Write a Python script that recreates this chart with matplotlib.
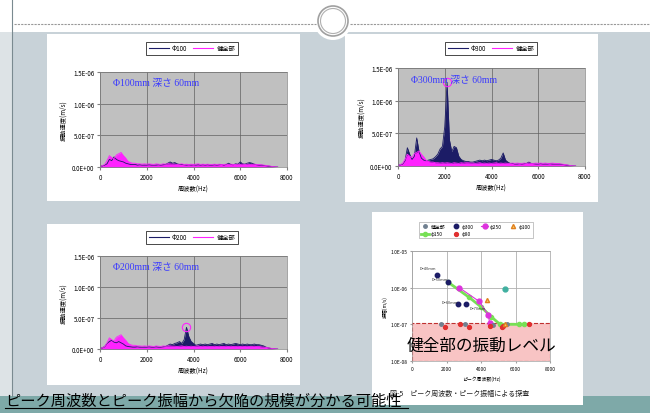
import numpy as np
import matplotlib
matplotlib.use('Agg')
import matplotlib.pyplot as plt
from matplotlib.patches import Rectangle, Circle
from matplotlib.lines import Line2D
from matplotlib.ticker import FuncFormatter

plt.rcParams['font.family'] = ['Noto Sans CJK JP', 'DejaVu Sans']

W, H = 650, 414

# spectra, 100 Hz steps, values in 1e-7 m/s
freq = np.arange(0, 7700, 100)
healthy = [0.1, 0.2, 0.4, 1.0, 1.8, 1.5, 1.3, 1.9, 2.1, 2.3,
           1.8, 1.4, 0.9, 0.7, 0.6, 0.6, 0.5, 0.5, 0.45, 0.5,
           0.45, 0.5, 0.45, 0.4, 0.5, 0.45, 0.4, 0.5, 0.45, 0.5,
           0.5, 0.45, 0.45, 0.4, 0.45, 0.5, 0.4, 0.45, 0.4, 0.45,
           0.4, 0.45, 0.5, 0.4, 0.45, 0.4, 0.45, 0.4, 0.4, 0.45,
           0.4, 0.45, 0.4, 0.4, 0.45, 0.4, 0.45, 0.4, 0.4, 0.45,
           0.4, 0.45, 0.4, 0.45, 0.4, 0.4, 0.45, 0.4, 0.4, 0.35,
           0.3, 0.25, 0.2, 0.12, 0.06, 0.02, 0.0]
phi100 = [0.1, 0.2, 0.3, 0.5, 1.2, 1.0, 1.6, 1.2, 1.0, 0.9,
          0.8, 0.6, 0.5, 0.4, 0.4, 0.4, 0.3, 0.35, 0.3, 0.3,
          0.3, 0.35, 0.3, 0.3, 0.3, 0.35, 0.3, 0.35, 0.4, 0.6,
          0.8, 0.6, 0.7, 0.5, 0.4, 0.4, 0.35, 0.3, 0.35, 0.3,
          0.35, 0.3, 0.35, 0.3, 0.35, 0.3, 0.35, 0.3, 0.3, 0.35,
          0.3, 0.35, 0.4, 0.3, 0.4, 0.6, 0.4, 0.35, 0.5, 0.45,
          0.8, 0.5, 0.45, 0.6, 0.7, 0.6, 0.45, 0.35, 0.3, 0.3,
          0.25, 0.2, 0.15, 0.1, 0.05, 0.02, 0.0]
phi300 = [0.1, 0.2, 0.3, 0.8, 2.8, 1.8, 1.0, 1.5, 4.3, 2.2,
          1.2, 0.9, 0.8, 0.9, 1.0, 1.1, 1.4, 1.8, 2.6, 3.0,
          6.0, 12.8, 4.0, 2.2, 3.0, 2.8, 1.5, 1.0, 0.8, 0.7,
          0.7, 0.6, 0.6, 0.7, 0.8, 0.9, 0.8, 0.9, 0.8, 0.9,
          1.0, 0.9, 0.8, 0.9, 1.2, 2.0, 0.9, 0.6, 0.4, 0.4,
          0.3, 0.3, 0.35, 0.3, 0.35, 0.4, 0.6, 0.4, 0.35, 0.3,
          0.3, 0.35, 0.3, 0.3, 0.3, 0.35, 0.3, 0.3, 0.3, 0.3,
          0.25, 0.2, 0.15, 0.1, 0.05, 0.02, 0.0]
phi200 = [0.1, 0.2, 0.4, 0.9, 1.2, 1.4, 1.1, 1.0, 1.2, 1.0,
          0.8, 0.5, 0.4, 0.35, 0.3, 0.3, 0.35, 0.3, 0.3, 0.3,
          0.3, 0.35, 0.3, 0.3, 0.35, 0.3, 0.3, 0.35, 0.4, 0.6,
          0.8, 0.7, 0.9, 1.0, 1.2, 0.9, 1.5, 3.5, 2.0, 1.2,
          0.9, 0.6, 0.7, 0.8, 0.7, 0.8, 0.7, 0.8, 0.9, 0.7,
          0.8, 0.7, 0.8, 0.9, 0.7, 0.8, 0.7, 0.8, 0.9, 0.8,
          0.7, 0.8, 0.7, 0.8, 0.7, 0.7, 0.8, 0.7, 0.7, 0.6,
          0.5, 0.3, 0.2, 0.1, 0.05, 0.02, 0.0]

# peak frequency / peak amplitude
pk_healthy_f = [1700, 3100, 4700, 5500]
pk_healthy_a = [1.0e-7, 1.0e-7, 9.5e-8, 1.0e-7]
pk_300_f = [1430, 2100, 2690, 3130]
pk_300_a = [2.2e-6, 1.45e-6, 3.6e-7, 3.6e-7]
pk_250_f = [2740, 3900, 4420, 4500]
pk_250_a = [1.0e-6, 4.2e-7, 1.8e-7, 1.1e-7]
pk_150_f = [2100, 3300, 4000, 4600, 5100, 6200, 6500]
pk_150_a = [1.4e-6, 5.5e-7, 3.0e-7, 1.6e-7, 1.0e-7, 1.0e-7, 1.0e-7]
pk_100_f = [4350, 5400]
pk_100_a = [4.7e-7, 1.0e-7]
pk_80_f = [1900, 2800, 3300, 4500, 5200, 5300, 6800]
pk_80_a = [8.5e-8, 1.0e-7, 8.5e-8, 9.0e-8, 8.5e-8, 9.0e-8, 1.0e-7]
pk_200_f = [5400]
pk_200_a = [9.0e-7]
depth_labels = ['D=40mm', 'D=50mm', 'D=60mm', 'D=70mm']
depth_f = [450, 1150, 1700, 3350]
depth_a = [3.2e-6, 1.6e-6, 3.8e-7, 2.6e-7]

NAVY = '#1c1c66'
MAG = '#ff22ff'

fig = plt.figure(figsize=(6.5, 4.14), dpi=100)
fig.patch.set_facecolor('#c8d2d8')

bg = fig.add_axes([0, 0, 1, 1])
bg.set_xlim(0, W)
bg.set_ylim(H, 0)
bg.axis('off')

# slide decoration
bg.add_patch(Rectangle((0, 0), W, 33, color='white', lw=0))
bg.add_patch(Rectangle((0, 33), 12, 364, color='#dde3e6', lw=0))
bg.plot([12, 12], [0, 397], color='#7a8a90', lw=0.8)
bg.plot([14, 316], [25, 25], color='#999999', lw=0.8, ls=(0, (2, 1)))
bg.plot([350, 650], [25, 25], color='#999999', lw=0.8, ls=(0, (2, 1)))
bg.add_patch(Circle((333, 22), 19, color='white', lw=0))
bg.add_patch(Circle((333, 22), 15, fill=False, ec='#a0a0a0', lw=1.2))
bg.add_patch(Circle((333, 22), 12.5, fill=False, ec='#b0b0b0', lw=0.8))
bg.add_patch(Rectangle((0, 397), W, 17, color='#7ea9a8', lw=0))

# white panels
for x0, y0, x1, y1 in [(47, 35, 300, 202), (345, 35, 598, 203),
                       (47, 225, 300, 386), (372, 213, 583, 406)]:
    bg.add_patch(Rectangle((x0, y0), x1 - x0, y1 - y0, color='white', lw=0))


def px_axes(x0, y0, x1, y1):
    return fig.add_axes([x0 / W, 1 - y1 / H, (x1 - x0) / W, (y1 - y0) / H])


sci = FuncFormatter(lambda v, p: f'{v:.1E}')


def spectrum(area, defect, name, note, leg_xy, ring=None):
    ax = px_axes(*area)
    ax.set_facecolor('#c0c0c0')
    d = np.array(defect) * 1e-7
    h = np.array(healthy) * 1e-7
    ax.fill_between(freq, d, color=NAVY, lw=0)
    ax.plot(freq, d, color=NAVY, lw=0.6)
    ax.fill_between(freq, h, color=MAG, lw=0)
    ax.plot(freq, h, color=MAG, lw=0.6)
    if ring is not None:
        ax.plot([ring[0]], [ring[1]], 'o', ms=6, mfc='none', mec=MAG, mew=0.8)
    ax.set_xlim(0, 8000)
    ax.set_ylim(0, 1.5e-6)
    ax.set_xticks([0, 2000, 4000, 6000, 8000])
    ax.set_yticks([0, 5e-7, 1e-6, 1.5e-6])
    ax.yaxis.set_major_formatter(sci)
    ax.grid(True, color='#606060', lw=0.5)
    ax.set_axisbelow(True)
    for s in ax.spines.values():
        s.set_color('#808080')
        s.set_linewidth(0.5)
    ax.tick_params(labelsize=4.5, length=2, pad=2, color='#808080')
    ax.set_xlabel('周波数(Hz)', fontsize=4.5, labelpad=3)
    ax.set_ylabel('振動速度(m/s)', fontsize=4.5, labelpad=3)
    ax.text(0.07, 0.86, note, transform=ax.transAxes, color='#3a3aff',
            fontsize=7, family=['Liberation Serif', 'Noto Sans CJK JP'])
    hs = [Line2D([], [], color=NAVY, lw=0.8), Line2D([], [], color=MAG, lw=0.8)]
    leg = ax.legend(hs, [name, '健全部'], loc='center', ncol=2,
                    bbox_to_anchor=(leg_xy[0] / W, 1 - leg_xy[1] / H),
                    bbox_transform=fig.transFigure, fontsize=4.5, fancybox=False,
                    edgecolor='black', framealpha=1, handlelength=3.2,
                    columnspacing=1.0, handletextpad=0.5, borderpad=0.4)
    leg.get_frame().set_linewidth(0.5)
    return ax


spectrum((100, 73, 287, 168), phi100, 'Φ100', 'Φ100mm 深さ 60mm', (192, 49))
spectrum((398, 69, 585, 167), phi300, 'Φ300', 'Φ300mm 深さ 60mm', (491, 49),
         ring=(2100, 12.8e-7))
spectrum((100, 257, 287, 350), phi200, 'Φ200', 'Φ200mm 深さ 60mm', (192, 238),
         ring=(3700, 3.5e-7))

# peak scatter chart
sx = px_axes(412, 252, 550, 362)
sx.set_yscale('log')
sx.set_xlim(0, 8000)
sx.set_ylim(1e-8, 1e-5)
sx.add_patch(Rectangle((0, 1e-8), 8000, 1.1e-7 - 1e-8, facecolor='#f8c4c4',
                       edgecolor='#c03030', ls='--', lw=0.8, zorder=1))
sx.plot(pk_150_f, pk_150_a, '-o', color='#77e055', lw=2, ms=3, zorder=3, label='φ150')
sx.plot(pk_250_f, pk_250_a, '-o', color='#dd33dd', lw=0.8, ms=3.5, zorder=4, label='φ250')
sx.plot(pk_300_f, pk_300_a, 'o', color=NAVY, ms=3.2, zorder=5, label='φ300')
sx.plot(pk_healthy_f, pk_healthy_a, 'o', color='#708090', ms=2.5, zorder=4, label='健全部')
sx.plot(pk_80_f, pk_80_a, 'o', color='#e03030', ms=2.8, zorder=4, label='φ80')
sx.plot(pk_100_f, pk_100_a, '^', mfc='#f8d060', mec='#e08020', ms=3, zorder=4, label='φ100')
sx.plot(pk_200_f, pk_200_a, 'o', color='#40b0a0', ms=3.5, zorder=4)
for t, f, a in zip(depth_labels, depth_f, depth_a):
    sx.text(f, a, t, fontsize=2.8, color='#333333', zorder=6)
sx.text(4000, 2.6e-8, '健全部の振動レベル', fontsize=12, ha='center', va='center', zorder=7)
sx.set_xticks([0, 2000, 4000, 6000, 8000])
sx.set_yticks([1e-8, 1e-7, 1e-6, 1e-5])
sx.minorticks_off()
sx.yaxis.set_major_formatter(sci)
sx.grid(True, color='#b0b0b0', lw=0.6)
sx.set_axisbelow(True)
for s in sx.spines.values():
    s.set_color('#a0a0a0')
    s.set_linewidth(0.5)
sx.tick_params(labelsize=3.5, length=1.5, pad=2, color='#a0a0a0')
sx.set_xlabel('ピーク周波数(Hz)', fontsize=3.5, labelpad=3)
sx.set_ylabel('振幅(m/s)', fontsize=3.5, labelpad=2)
h, l = sx.get_legend_handles_labels()
# column-major fill -> rows: 健全部 φ300 φ250 φ100 / φ150 φ80
order = [3, 0, 2, 4, 1, 5]
sleg = sx.legend([h[i] for i in order], [l[i] for i in order], loc='center', ncol=4,
                 bbox_to_anchor=(476 / W, 1 - 231 / H), bbox_transform=fig.transFigure,
                 fontsize=3.5, fancybox=False, edgecolor='#999999', framealpha=1,
                 handlelength=1.5, columnspacing=1.5, handletextpad=0.4, borderpad=0.4)
sleg.get_frame().set_linewidth(0.4)

bg.text(390, 394, '図-5　ピーク周波数・ピーク振幅による探査', fontsize=5,
        va='center', color='#222222')
bg.text(5, 401, 'ピーク周波数とピーク振幅から欠陥の規模が分かる可能性', fontsize=11,
        va='center', color='black', zorder=8)
bg.plot([5, 408], [409, 409], color='black', lw=0.8, zorder=8)

fig.savefig('out.png', dpi=100)
